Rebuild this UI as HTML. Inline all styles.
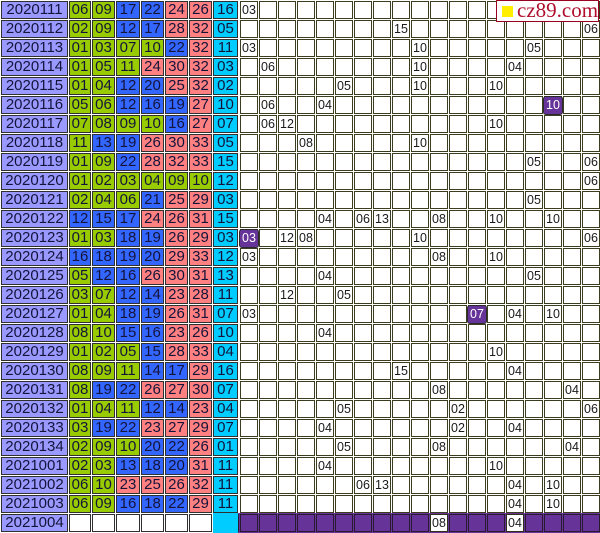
<!DOCTYPE html>
<html><head><meta charset="utf-8">
<style>
html,body{margin:0;padding:0;background:#fff;}
body{width:600px;height:533px;position:relative;overflow:hidden;font-family:"Liberation Sans",Arial,sans-serif;}
.row{position:absolute;left:1px;height:18px;display:flex;}
.row>i{font-style:normal;display:block;height:18px;box-sizing:border-box;border:1px solid #303030;line-height:16px;text-align:center;font-size:15px;color:#14143a;margin-right:1px;overflow:hidden;}
.row>i:nth-child(1){width:67px;}
.row>i:nth-child(2){width:22px;}
.row>i:nth-child(3){width:23px;}
.row>i:nth-child(4){width:24px;}
.row>i:nth-child(5){width:23px;}
.row>i:nth-child(6){width:23px;}
.row>i:nth-child(7){width:23px;}
.row>i:nth-child(8){width:25px;}
.d{background:#9999ff;}
.g{background:#99cc00;}
.b{background:#3366ff;}
.r{background:#ff8080;}
.c{background:#00ccff;}
.w{background:#fff;}
.n{position:absolute;width:18px;height:18px;line-height:18px;text-align:center;font-size:12.5px;color:#1a1a1a;}
.p{position:absolute;width:20px;height:19px;box-sizing:border-box;border:1px solid #2a2a2a;border-radius:3px;background:#663399;color:#fff;line-height:17px;text-align:center;font-size:12.5px;}
.wc{position:absolute;width:18px;height:18px;box-sizing:border-box;border:1px solid #303018;background:#fff;line-height:16px;text-align:center;font-size:12.5px;color:#1a1a1a;}
.logo{position:absolute;left:496px;top:0;width:103px;height:22px;box-sizing:border-box;border:1px solid #9a0020;background:#fff;}
.logo .sq{position:absolute;left:5px;top:5px;width:11px;height:11px;background:#ffee00;}
.logo .t{position:absolute;left:20px;top:-2px;font-family:"Liberation Serif",serif;font-size:21px;line-height:22px;color:#b0102e;white-space:nowrap;}
</style></head><body>

<svg style="position:absolute;left:239px;top:0" width="361" height="513">
<defs><pattern id="pg" width="19" height="19" patternUnits="userSpaceOnUse"><rect x="1.5" y="1.5" width="17" height="17" fill="#fff" stroke="#3c3c1e" stroke-width="1"/></pattern></defs>
<rect width="361" height="513" fill="url(#pg)"/>
</svg>

<svg style="position:absolute;left:238px;top:513px" width="362" height="20">
<defs><pattern id="pp" x="1" y="0" width="19" height="19" patternUnits="userSpaceOnUse"><rect x="1.5" y="1.5" width="17" height="17" fill="#663399" stroke="#2a1a30" stroke-width="1"/></pattern></defs>
<rect width="362" height="20" fill="#663399"/>
<rect width="362" height="20" fill="url(#pp)"/>
</svg>

<div class="row" style="top:1px"><i class="d">2020111</i><i class="g">06</i><i class="g">09</i><i class="b">17</i><i class="b">22</i><i class="r">24</i><i class="r">26</i><i class="c">16</i></div>
<div class="row" style="top:20px"><i class="d">2020112</i><i class="g">02</i><i class="g">09</i><i class="b">12</i><i class="b">17</i><i class="r">28</i><i class="r">32</i><i class="c">05</i></div>
<div class="row" style="top:39px"><i class="d">2020113</i><i class="g">01</i><i class="g">03</i><i class="g">07</i><i class="g">10</i><i class="b">22</i><i class="r">32</i><i class="c">11</i></div>
<div class="row" style="top:58px"><i class="d">2020114</i><i class="g">01</i><i class="g">05</i><i class="g">11</i><i class="r">24</i><i class="r">30</i><i class="r">32</i><i class="c">03</i></div>
<div class="row" style="top:77px"><i class="d">2020115</i><i class="g">01</i><i class="g">04</i><i class="b">12</i><i class="b">20</i><i class="r">25</i><i class="r">32</i><i class="c">02</i></div>
<div class="row" style="top:96px"><i class="d">2020116</i><i class="g">05</i><i class="g">06</i><i class="b">12</i><i class="b">16</i><i class="b">19</i><i class="r">27</i><i class="c">10</i></div>
<div class="row" style="top:115px"><i class="d">2020117</i><i class="g">07</i><i class="g">08</i><i class="g">09</i><i class="g">10</i><i class="b">16</i><i class="r">27</i><i class="c">07</i></div>
<div class="row" style="top:134px"><i class="d">2020118</i><i class="g">11</i><i class="b">13</i><i class="b">19</i><i class="r">26</i><i class="r">30</i><i class="r">33</i><i class="c">05</i></div>
<div class="row" style="top:153px"><i class="d">2020119</i><i class="g">01</i><i class="g">09</i><i class="b">22</i><i class="r">28</i><i class="r">32</i><i class="r">33</i><i class="c">15</i></div>
<div class="row" style="top:172px"><i class="d">2020120</i><i class="g">01</i><i class="g">02</i><i class="g">03</i><i class="g">04</i><i class="g">09</i><i class="g">10</i><i class="c">12</i></div>
<div class="row" style="top:191px"><i class="d">2020121</i><i class="g">02</i><i class="g">04</i><i class="g">06</i><i class="b">21</i><i class="r">25</i><i class="r">29</i><i class="c">03</i></div>
<div class="row" style="top:210px"><i class="d">2020122</i><i class="b">12</i><i class="b">15</i><i class="b">17</i><i class="r">24</i><i class="r">26</i><i class="r">31</i><i class="c">15</i></div>
<div class="row" style="top:229px"><i class="d">2020123</i><i class="g">01</i><i class="g">03</i><i class="b">18</i><i class="b">19</i><i class="r">26</i><i class="r">29</i><i class="c">03</i></div>
<div class="row" style="top:248px"><i class="d">2020124</i><i class="b">16</i><i class="b">18</i><i class="b">19</i><i class="b">20</i><i class="r">29</i><i class="r">33</i><i class="c">12</i></div>
<div class="row" style="top:267px"><i class="d">2020125</i><i class="g">05</i><i class="b">12</i><i class="b">16</i><i class="r">26</i><i class="r">30</i><i class="r">31</i><i class="c">13</i></div>
<div class="row" style="top:286px"><i class="d">2020126</i><i class="g">03</i><i class="g">07</i><i class="b">12</i><i class="b">14</i><i class="r">23</i><i class="r">28</i><i class="c">11</i></div>
<div class="row" style="top:305px"><i class="d">2020127</i><i class="g">01</i><i class="g">04</i><i class="b">18</i><i class="b">19</i><i class="r">26</i><i class="r">31</i><i class="c">07</i></div>
<div class="row" style="top:324px"><i class="d">2020128</i><i class="g">08</i><i class="g">10</i><i class="b">15</i><i class="b">16</i><i class="r">23</i><i class="r">26</i><i class="c">10</i></div>
<div class="row" style="top:343px"><i class="d">2020129</i><i class="g">01</i><i class="g">02</i><i class="g">05</i><i class="b">15</i><i class="r">28</i><i class="r">33</i><i class="c">04</i></div>
<div class="row" style="top:362px"><i class="d">2020130</i><i class="g">08</i><i class="g">09</i><i class="g">11</i><i class="b">14</i><i class="b">17</i><i class="r">29</i><i class="c">16</i></div>
<div class="row" style="top:381px"><i class="d">2020131</i><i class="g">08</i><i class="b">19</i><i class="b">22</i><i class="r">26</i><i class="r">27</i><i class="r">30</i><i class="c">07</i></div>
<div class="row" style="top:400px"><i class="d">2020132</i><i class="g">01</i><i class="g">04</i><i class="g">11</i><i class="b">12</i><i class="b">14</i><i class="r">23</i><i class="c">04</i></div>
<div class="row" style="top:419px"><i class="d">2020133</i><i class="g">03</i><i class="b">19</i><i class="b">22</i><i class="r">23</i><i class="r">27</i><i class="r">29</i><i class="c">07</i></div>
<div class="row" style="top:438px"><i class="d">2020134</i><i class="g">02</i><i class="g">09</i><i class="g">10</i><i class="b">20</i><i class="b">22</i><i class="r">26</i><i class="c">01</i></div>
<div class="row" style="top:457px"><i class="d">2021001</i><i class="g">02</i><i class="g">03</i><i class="b">13</i><i class="b">18</i><i class="b">20</i><i class="r">31</i><i class="c">11</i></div>
<div class="row" style="top:476px"><i class="d">2021002</i><i class="g">06</i><i class="g">10</i><i class="r">23</i><i class="r">25</i><i class="r">26</i><i class="r">32</i><i class="c">11</i></div>
<div class="row" style="top:495px"><i class="d">2021003</i><i class="g">06</i><i class="g">09</i><i class="b">16</i><i class="b">18</i><i class="b">22</i><i class="r">29</i><i class="c">11</i></div>
<div class="row" style="top:514px"><i class="d">2021004</i><i class="w"></i><i class="w"></i><i class="w"></i><i class="w"></i><i class="w"></i><i class="w"></i></div>
<div style="position:absolute;left:213px;top:513px;width:25px;height:20px;background:#00ccff;"></div>

<!-- grid numbers -->
<span class="n" style="left:240px;top:1px">03</span>

<span class="n" style="left:392px;top:20px">15</span>
<span class="n" style="left:582px;top:20px">06</span>

<span class="n" style="left:240px;top:39px">03</span>
<span class="n" style="left:411px;top:39px">10</span>
<span class="n" style="left:525px;top:39px">05</span>

<span class="n" style="left:259px;top:58px">06</span>
<span class="n" style="left:411px;top:58px">10</span>
<span class="n" style="left:506px;top:58px">04</span>

<span class="n" style="left:335px;top:77px">05</span>
<span class="n" style="left:411px;top:77px">10</span>
<span class="n" style="left:487px;top:77px">10</span>

<span class="n" style="left:259px;top:96px">06</span>
<span class="n" style="left:316px;top:96px">04</span>
<span class="p" style="left:543px;top:96px">10</span>

<span class="n" style="left:259px;top:115px">06</span>
<span class="n" style="left:278px;top:115px">12</span>
<span class="n" style="left:487px;top:115px">10</span>

<span class="n" style="left:297px;top:134px">08</span>
<span class="n" style="left:411px;top:134px">10</span>

<span class="n" style="left:525px;top:153px">05</span>
<span class="n" style="left:582px;top:153px">06</span>

<span class="n" style="left:582px;top:172px">06</span>

<span class="n" style="left:525px;top:191px">05</span>

<span class="n" style="left:316px;top:210px">04</span>
<span class="n" style="left:354px;top:210px">06</span>
<span class="n" style="left:373px;top:210px">13</span>
<span class="n" style="left:430px;top:210px">08</span>
<span class="n" style="left:487px;top:210px">10</span>
<span class="n" style="left:544px;top:210px">10</span>

<span class="p" style="left:239px;top:229px">03</span>
<span class="n" style="left:278px;top:229px">12</span>
<span class="n" style="left:297px;top:229px">08</span>
<span class="n" style="left:411px;top:229px">10</span>
<span class="n" style="left:582px;top:229px">06</span>

<span class="n" style="left:240px;top:248px">03</span>
<span class="n" style="left:430px;top:248px">08</span>
<span class="n" style="left:487px;top:248px">10</span>

<span class="n" style="left:316px;top:267px">04</span>
<span class="n" style="left:525px;top:267px">05</span>

<span class="n" style="left:278px;top:286px">12</span>
<span class="n" style="left:335px;top:286px">05</span>

<span class="n" style="left:240px;top:305px">03</span>
<span class="p" style="left:467px;top:305px">07</span>
<span class="n" style="left:506px;top:305px">04</span>
<span class="n" style="left:544px;top:305px">10</span>

<span class="n" style="left:316px;top:324px">04</span>

<span class="n" style="left:487px;top:343px">10</span>

<span class="n" style="left:392px;top:362px">15</span>
<span class="n" style="left:506px;top:362px">04</span>

<span class="n" style="left:430px;top:381px">08</span>
<span class="n" style="left:563px;top:381px">04</span>

<span class="n" style="left:335px;top:400px">05</span>
<span class="n" style="left:449px;top:400px">02</span>
<span class="n" style="left:582px;top:400px">06</span>

<span class="n" style="left:316px;top:419px">04</span>
<span class="n" style="left:449px;top:419px">02</span>
<span class="n" style="left:506px;top:419px">04</span>

<span class="n" style="left:335px;top:438px">05</span>
<span class="n" style="left:430px;top:438px">08</span>
<span class="n" style="left:563px;top:438px">04</span>

<span class="n" style="left:316px;top:457px">04</span>
<span class="n" style="left:487px;top:457px">10</span>

<span class="n" style="left:354px;top:476px">06</span>
<span class="n" style="left:373px;top:476px">13</span>
<span class="n" style="left:506px;top:476px">04</span>
<span class="n" style="left:544px;top:476px">10</span>

<span class="n" style="left:506px;top:495px">04</span>
<span class="n" style="left:544px;top:495px">10</span>

<span class="wc" style="left:430px;top:514px">08</span>
<span class="wc" style="left:506px;top:514px">04</span>

<div class="logo"><div class="sq"></div><div class="t">cz89.com</div></div>

</body></html>
